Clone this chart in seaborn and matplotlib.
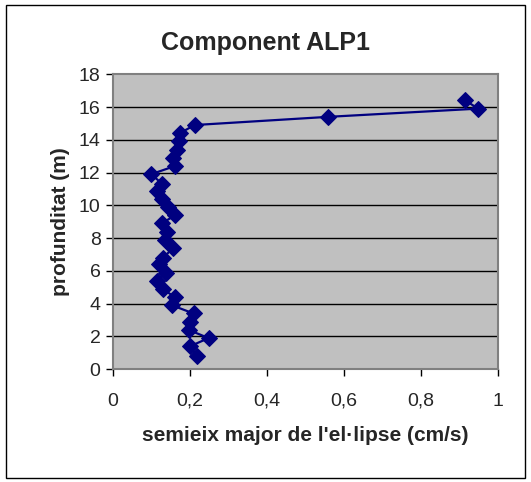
import pandas as pd
import matplotlib.pyplot as plt
import seaborn as sns
from matplotlib.patches import Rectangle

# semieix major (cm/s) per cada profunditat (m)
depth = [0.8, 1.4, 1.9, 2.4, 2.9, 3.4, 3.9, 4.4, 4.9, 5.4, 5.9, 6.4, 6.8, 7.4,
         7.9, 8.4, 8.9, 9.4, 9.9, 10.4, 10.9, 11.3, 11.9, 12.4, 12.9, 13.4,
         13.9, 14.4, 14.9, 15.4, 15.9, 16.4]
semieix = [0.217, 0.200, 0.248, 0.196, 0.200, 0.209, 0.153, 0.160, 0.129, 0.114,
           0.137, 0.120, 0.130, 0.156, 0.135, 0.140, 0.126, 0.162, 0.142, 0.127,
           0.114, 0.128, 0.099, 0.161, 0.156, 0.165, 0.170, 0.173, 0.212, 0.559,
           0.948, 0.915]

xticks = [0, 0.2, 0.4, 0.6, 0.8, 1]
xtick_labels = ['0', '0,2', '0,4', '0,6', '0,8', '1']
yticks = [0, 2, 4, 6, 8, 10, 12, 14, 16, 18]

df = pd.DataFrame({'semieix': semieix, 'profunditat': depth})

sns.set_style('white')
plt.rcParams['font.family'] = ['Liberation Sans', 'DejaVu Sans']

fig = plt.figure(figsize=(5.31, 4.82), dpi=100)
ax = fig.add_axes([0.213, 0.234, 0.725, 0.612])
ax.set_facecolor('#C0C0C0')

for y in yticks[1:-1]:
    ax.axhline(y, color='black', linewidth=1, zorder=1)

sns.lineplot(data=df, x='semieix', y='profunditat', sort=False, estimator=None,
             color='#000080', linewidth=1.6, marker='D', markersize=8.5,
             markeredgecolor='#000080', ax=ax, zorder=3)

ax.set_xlim(0, 1)
ax.set_ylim(0, 18)
ax.set_xticks(xticks)
ax.set_xticklabels(xtick_labels)
ax.set_yticks(yticks)
ax.tick_params(axis='both', direction='out', length=5, width=1, color='black',
               labelsize=14, pad=12, bottom=True, left=True)
ax.tick_params(axis='y', pad=4)
for s in ax.spines.values():
    s.set_color('#808080')
    s.set_linewidth(1.5)

ax.set_xlabel("semieix major de l'el·lipse (cm/s)", fontsize=15, fontweight='bold', labelpad=12)
ax.set_ylabel('profunditat (m)', fontsize=15, fontweight='bold', labelpad=6)
fig.text(0.5, 0.91, 'Component ALP1', ha='center', va='center',
         fontsize=18, fontweight='bold')

fig.patches.append(Rectangle((6 / 531, 4 / 482), 519 / 531, 473 / 482,
                             transform=fig.transFigure, fill=False,
                             edgecolor='black', linewidth=1))

fig.savefig('out.png', dpi=100)
